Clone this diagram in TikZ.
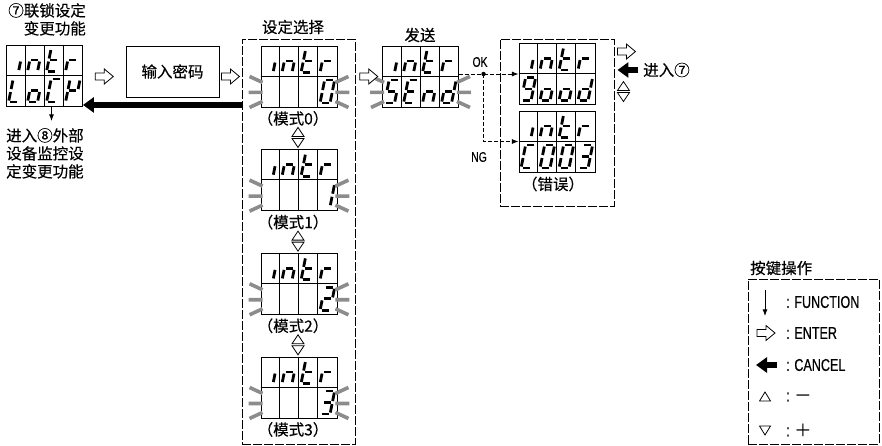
\documentclass[tikz,border=0pt]{standalone}
\usepackage{fontspec}
\setmainfont[FakeBold=0.3]{Noto Sans CJK SC}
\newfontfamily\latn[FakeStretch=0.74,FakeBold=0.5]{Liberation Sans}
\usetikzlibrary{arrows.meta,calc,positioning}
\definecolor{blink}{gray}{0.55}
\tikzset{
  >=Latex,
  box/.style={draw=black, line width=0.7pt},
  lcdbox/.style={draw=black, line width=0.9pt, minimum width=76pt, minimum height=61pt, inner sep=0pt},
  grid/.style={draw=black, line width=0.8pt},
  seg/.style={draw=black, line width=2.8pt},
  flash/.style={draw=blink, line width=3.6pt},
  frame/.style={draw=black, line width=0.9pt, dash pattern=on 9pt off 2pt, inner sep=0pt},
  link/.style={draw=black, line width=0.8pt, dash pattern=on 4pt off 2pt},
  hol/.style={draw=black, line width=0.8pt, fill=white},
  tri/.style={draw=black, line width=0.8pt, fill=white},
  cancel/.style={draw=black, line width=6pt, -{Triangle[length=11pt,width=15pt]}},
  lab/.style={font=\fontsize{15.5}{18}\selectfont, inner sep=0pt},
  eng/.style={font=\latn\fontsize{14}{16}\selectfont, inner sep=0pt},
  keyl/.style={font=\latn\fontsize{17}{19}\selectfont, inner sep=0pt},
}
% seven segments, slanted in the glyph scope
\newcommand{\segA}{\draw[seg] (1.5,-23) -- (8.5,-23);}
\newcommand{\segB}{\draw[seg] (10,-21.5) -- (10,-13);}
\newcommand{\segC}{\draw[seg] (10,-10) -- (10,-1.5);}
\newcommand{\segD}{\draw[seg] (1.5,0) -- (8.5,0);}
\newcommand{\segE}{\draw[seg] (0,-10) -- (0,-1.5);}
\newcommand{\segF}{\draw[seg] (0,-21.5) -- (0,-13);}
\newcommand{\segG}{\draw[seg] (1.5,-11.5) -- (8.5,-11.5);}
\newcommand{\lcdI}{\segC}
\newcommand{\lcdN}{\segC\segE\segG}
\newcommand{\lcdT}{\segD\segE\segF\segG}
\newcommand{\lcdR}{\segE\segG}
\newcommand{\lcdL}{\segD\segE\segF}
\newcommand{\lcdO}{\segC\segD\segE\segG}
\newcommand{\lcdC}{\segA\segD\segE\segF}
\newcommand{\lcdK}{\segB\segE\segF\segG}
\newcommand{\lcdS}{\segA\segC\segD\segF\segG}
\newcommand{\lcdE}{\segA\segD\segE\segF\segG}
\newcommand{\lcdD}{\segB\segC\segD\segE\segG}
\newcommand{\lcdG}{\segA\segB\segC\segD\segF\segG}
\newcommand{\lcdZero}{\segA\segB\segC\segD\segE\segF}
\newcommand{\lcdOne}{\segB\segC}
\newcommand{\lcdTwo}{\segA\segB\segD\segE\segG}
\newcommand{\lcdThree}{\segA\segB\segC\segD\segG}
\newcommand{\glyph}[3]{\begin{scope}[shift={(19*#1+2.5,30.5*#2+27)}, xslant=0.2]#3\end{scope}}
% display: name, centre, four lower characters
\newcommand{\lcd}[6]{%
  \node[lcdbox] (#1) at (#2) {};
  \begin{scope}[shift={(#1.north west)}]
    \draw[grid] (0,30.5) -- (76,30.5);
    \foreach \cx in {19,38,57} {\draw[grid] (\cx,0) -- (\cx,61);}
    \glyph{0}{0}{\lcdI}\glyph{1}{0}{\lcdN}\glyph{2}{0}{\lcdT}\glyph{3}{0}{\lcdR}
    \glyph{0}{1}{#3}\glyph{1}{1}{#4}\glyph{2}{1}{#5}\glyph{3}{1}{#6}
  \end{scope}}
\newcommand{\flash}[1]{%
  \begin{scope}[shift={(#1.south west)}]
    \draw[flash] (2,-6) -- (-11,0) (2,-15) -- (-12,-15) (2,-25) -- (-11,-31);
  \end{scope}
  \begin{scope}[shift={(#1.south east)}]
    \draw[flash] (-2,-6) -- (11,0) (-2,-15) -- (12,-15) (-2,-25) -- (11,-31);
  \end{scope}}
\newcommand{\hollow}[1]{\draw[hol, shift={#1}] (-9,-3.5) -- (0,-3.5) -- (0,-7.5) -- (9,0) -- (0,7.5) -- (0,3.5) -- (-9,3.5) -- cycle;}
\newcommand{\updown}[1]{\draw[tri, shift={#1}] (-6,-1) -- (0,-10) -- (6,-1) -- cycle (-6,1) -- (6,1) -- (0,10) -- cycle;}

\begin{document}
\begin{tikzpicture}[x=1pt,y=-1pt]
\useasboundingbox (0,0) rectangle (882,446);
% interlock display
\node[lab, align=right, anchor=north east] (tA) at (86,3) {⑦联锁设定\\变更功能};
\lcd{lcdA}{44.5,75.5}{\lcdL}{\lcdO}{\lcdC}{\lcdK}
\node[lab, align=left, anchor=north west] (tB) at (6,128) {进入⑧外部\\设备监控设\\定变更功能};
\coordinate (dn) at ($(lcdA.south)+(7,0)$);
\draw[->, line width=0.8pt, shorten >=7pt] (dn) -- (dn |- tB.north);
% password
\node[box, lab, minimum width=93pt, minimum height=51pt] (pw) at (172.5,71.5) {输入密码};
\hollow{($(lcdA.east)!0.5!(pw.west)+(0,3)$)}
% mode select
\node[frame, minimum width=113pt, minimum height=405pt] (sel) at (298.5,241.5) {};
\node[lab] (tSel) at (293,27) {设定选择};
\hollow{($(pw.east)!0.5!(pw.east -| sel.west)+(0,5)$)}
\foreach \i/\d in {0/\lcdZero,1/\lcdOne,2/\lcdTwo,3/\lcdThree}{
  \lcd{m\i}{299,76.5+103.67*\i}{}{}{}{\d}
  \flash{m\i}
  \node[lab] (lm\i) at ($(m\i.south)+(-6,11)$) {（模式\i）};
}
\foreach \i in {0,1,2}{\updown{($(m\i.south)+(-1,30)$)}}
\draw[cancel] ($(sel.west |- lcdA.south)+(0,-1.5)$) -- ($(lcdA.south east)+(0,-1.5)$);
% send
\node[lab] (tSend) at (420,35) {发送};
\lcd{snd}{420.5,76.5}{\lcdS}{\lcdE}{\lcdN}{\lcdD}
\flash{snd}
\hollow{($(sel.east |- snd.east)!0.5!(snd.west)$)}
% result
\node[frame, minimum width=114pt, minimum height=167pt] (res) at (557,122.5) {};
\lcd{gd}{557,74}{\lcdG}{\lcdO}{\lcdO}{\lcdD}
\lcd{er}{557,141.5}{\lcdC}{\lcdZero}{\lcdZero}{\lcdThree}
\node[lab] (tErr) at (553,184) {（错误）};
\coordinate (fk) at ($(gd.west)+(-35,0)$);
\draw[link] (snd.east |- fk) -- (fk);
\draw[link, ->] (fk) -- (gd.west);
\draw[link, ->] (fk) |- (er.west);
\fill (fk) circle (2.2pt);
\node[eng] (tOK) at (480,62) {OK};
\node[eng] (tNG) at (479,157) {NG};
\node[lab, anchor=west] (tGo7) at (643,70) {进入⑦};
\hollow{($(res.north east)+(12,13)$)}
\draw[cancel] ($(res.east |- tGo7)+(24,0)$) -- ($(res.east |- tGo7)+(3,0)$);
\updown{($(res.north east)+(9,53)$)}
% keys
\node[lab, anchor=west] (tKey) at (750,268) {按键操作};
\node[frame, minimum width=131pt, minimum height=165pt] (key) at (813.5,361.5) {};
\node[keyl, anchor=west] (kF) at (786,302) {: FUNCTION};
\node[keyl, anchor=west] (kE) at (786,333) {: ENTER};
\node[keyl, anchor=west] (kC) at (786,365) {: CANCEL};
\node[keyl, anchor=west] (kM) at (786,397) {: \fontspec[FakeBold=0.3]{Noto Sans CJK SC}－};
\node[keyl, anchor=west] (kP) at (786,430) {: \fontspec[FakeBold=0.3]{Noto Sans CJK SC}＋};
\draw[->, line width=0.8pt] (765,290) -- (765,316);
\hollow{(766,333)}
\draw[cancel] (777,365) -- (756,365);
\draw[tri] (759.5,401) -- (765,392) -- (770.5,401) -- cycle;
\draw[tri] (759.5,426) -- (770.5,426) -- (765,435) -- cycle;
\end{tikzpicture}
\end{document}
